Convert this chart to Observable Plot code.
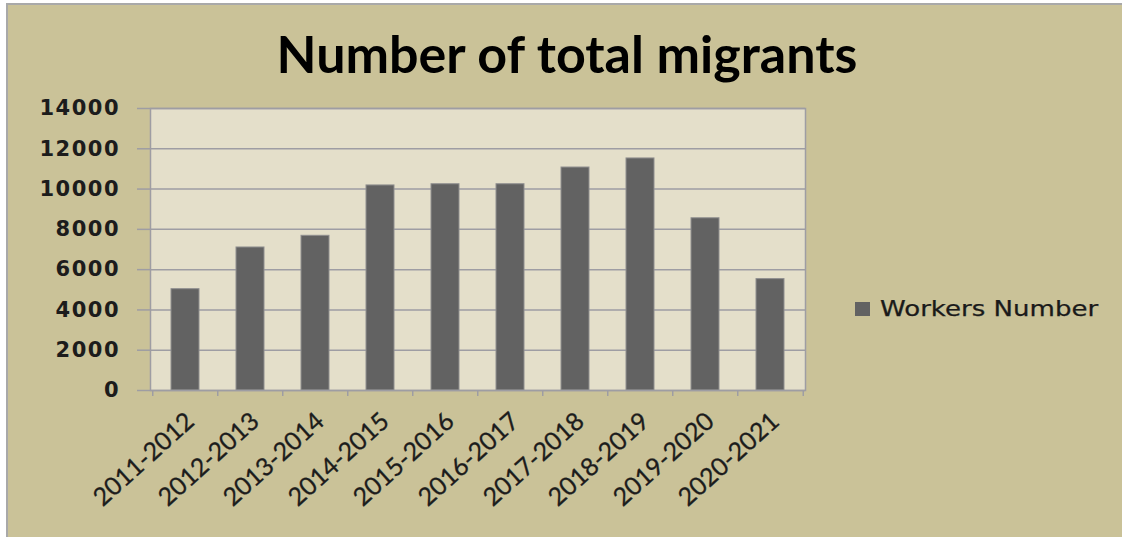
<!DOCTYPE html>
<html>
<head>
<meta charset="utf-8">
<script src="https://cdn.jsdelivr.net/npm/d3@7"></script>
<script src="https://cdn.jsdelivr.net/npm/@observablehq/plot@0.6"></script>
<style>
  html, body { margin: 0; padding: 0; background: #ffffff; }
  #wrap { position: relative; width: 1122px; height: 537px; overflow: hidden; }
  #panel { position: absolute; left: 6px; top: 3px; right: 0; bottom: 0; background: #cac298;
           border-left: 2px solid #a9a9a9; border-top: 2px solid #a9a9a9; }
  #title { position: absolute; left: 0; width: 1134px; top: 27px; text-align: center;
           font-family: Lato, "Open Sans", sans-serif; font-weight: bold; font-size: 52px;
           line-height: 1; color: #000; white-space: nowrap; }
  #chart { position: absolute; left: 0; top: 0; }
  #chart svg [aria-label="y-axis tick label"] text { letter-spacing: 1.5px; }
  #chart svg [aria-label="x-axis tick label"] text { stroke: #1c1c1c; stroke-width: 0.3px; }
  #swatch { position: absolute; left: 855px; top: 302px; width: 15px; height: 14px; background: #626262; }
  #legtext { position: absolute; left: 880px; top: 299.4px; font-family: "DejaVu Sans", sans-serif;
             font-size: 20.5px; line-height: 1; color: #1a1a1a; white-space: nowrap;
             transform: scaleX(1.27); transform-origin: left center; -webkit-text-stroke: 0.25px #1a1a1a; }
</style>
</head>
<body>
<div id="wrap">
  <div id="panel"></div>
  <div id="chart"></div>
  <div id="title"></div>
  <div id="swatch"></div>
  <div id="legtext"></div>
</div>
<script>
const chartTitle = "Number of total migrants";
const seriesName = "Workers Number";
const periods = ["2011-2012", "2012-2013", "2013-2014", "2014-2015", "2015-2016",
                 "2016-2017", "2017-2018", "2018-2019", "2019-2020", "2020-2021"];
const workers = [5030, 7100, 7680, 10180, 10240, 10240, 11070, 11520, 8550, 5530];
const yTicks = [0, 2000, 4000, 6000, 8000, 10000, 12000, 14000];

const data = periods.map((p, i) => ({period: p, workers: workers[i]}));

const W = 1122, H = 537, mL = 150, mR = 317, mT = 108, mB = 147;
const step = (W - mL - mR) / periods.length;
const grid = "#9e9da3";

const chart = Plot.plot({
  width: W, height: H,
  marginLeft: mL, marginRight: mR, marginTop: mT, marginBottom: mB,
  style: {background: "transparent", overflow: "visible"},
  x: {type: "band", domain: periods, paddingInner: 0.565, paddingOuter: 0.2825, align: 0.5, label: null},
  y: {domain: [0, 14000], label: null},
  marks: [
    Plot.frame({fill: "#e4dfca"}),
    Plot.ruleY(yTicks, {stroke: grid, strokeWidth: 1.5}),
    Plot.axisY({ticks: yTicks, tickFormat: "d", tickSize: 13, tickPadding: 17.5,
                stroke: grid, strokeWidth: 1.5, fill: "#1c1c1c",
                fontFamily: "DejaVu Sans", fontSize: 21, fontWeight: "bold", label: null}),
    Plot.barY(data, {x: "period", y: "workers", fill: "#626262", stroke: "#8f8f8f", strokeWidth: 1}),
    Plot.ruleX(periods, {x: d => d, y1: 0, y2: -300, dx: -step / 2, stroke: grid, strokeWidth: 1.5}),
    Plot.ruleX(periods.slice(-1), {x: d => d, y1: 0, y2: -300, dx: step / 2, stroke: grid, strokeWidth: 1.5}),
    Plot.axisX({tickSize: 0, tickRotate: -42, tickPadding: 27, dx: 5, fill: "#1c1c1c",
                fontFamily: "Lato", fontSize: 25, label: null}),
    Plot.frame({stroke: grid, strokeWidth: 1.5})
  ]
});
document.getElementById("chart").appendChild(chart);
document.getElementById("title").textContent = chartTitle;
document.getElementById("legtext").textContent = seriesName;
</script>
</body>
</html>
